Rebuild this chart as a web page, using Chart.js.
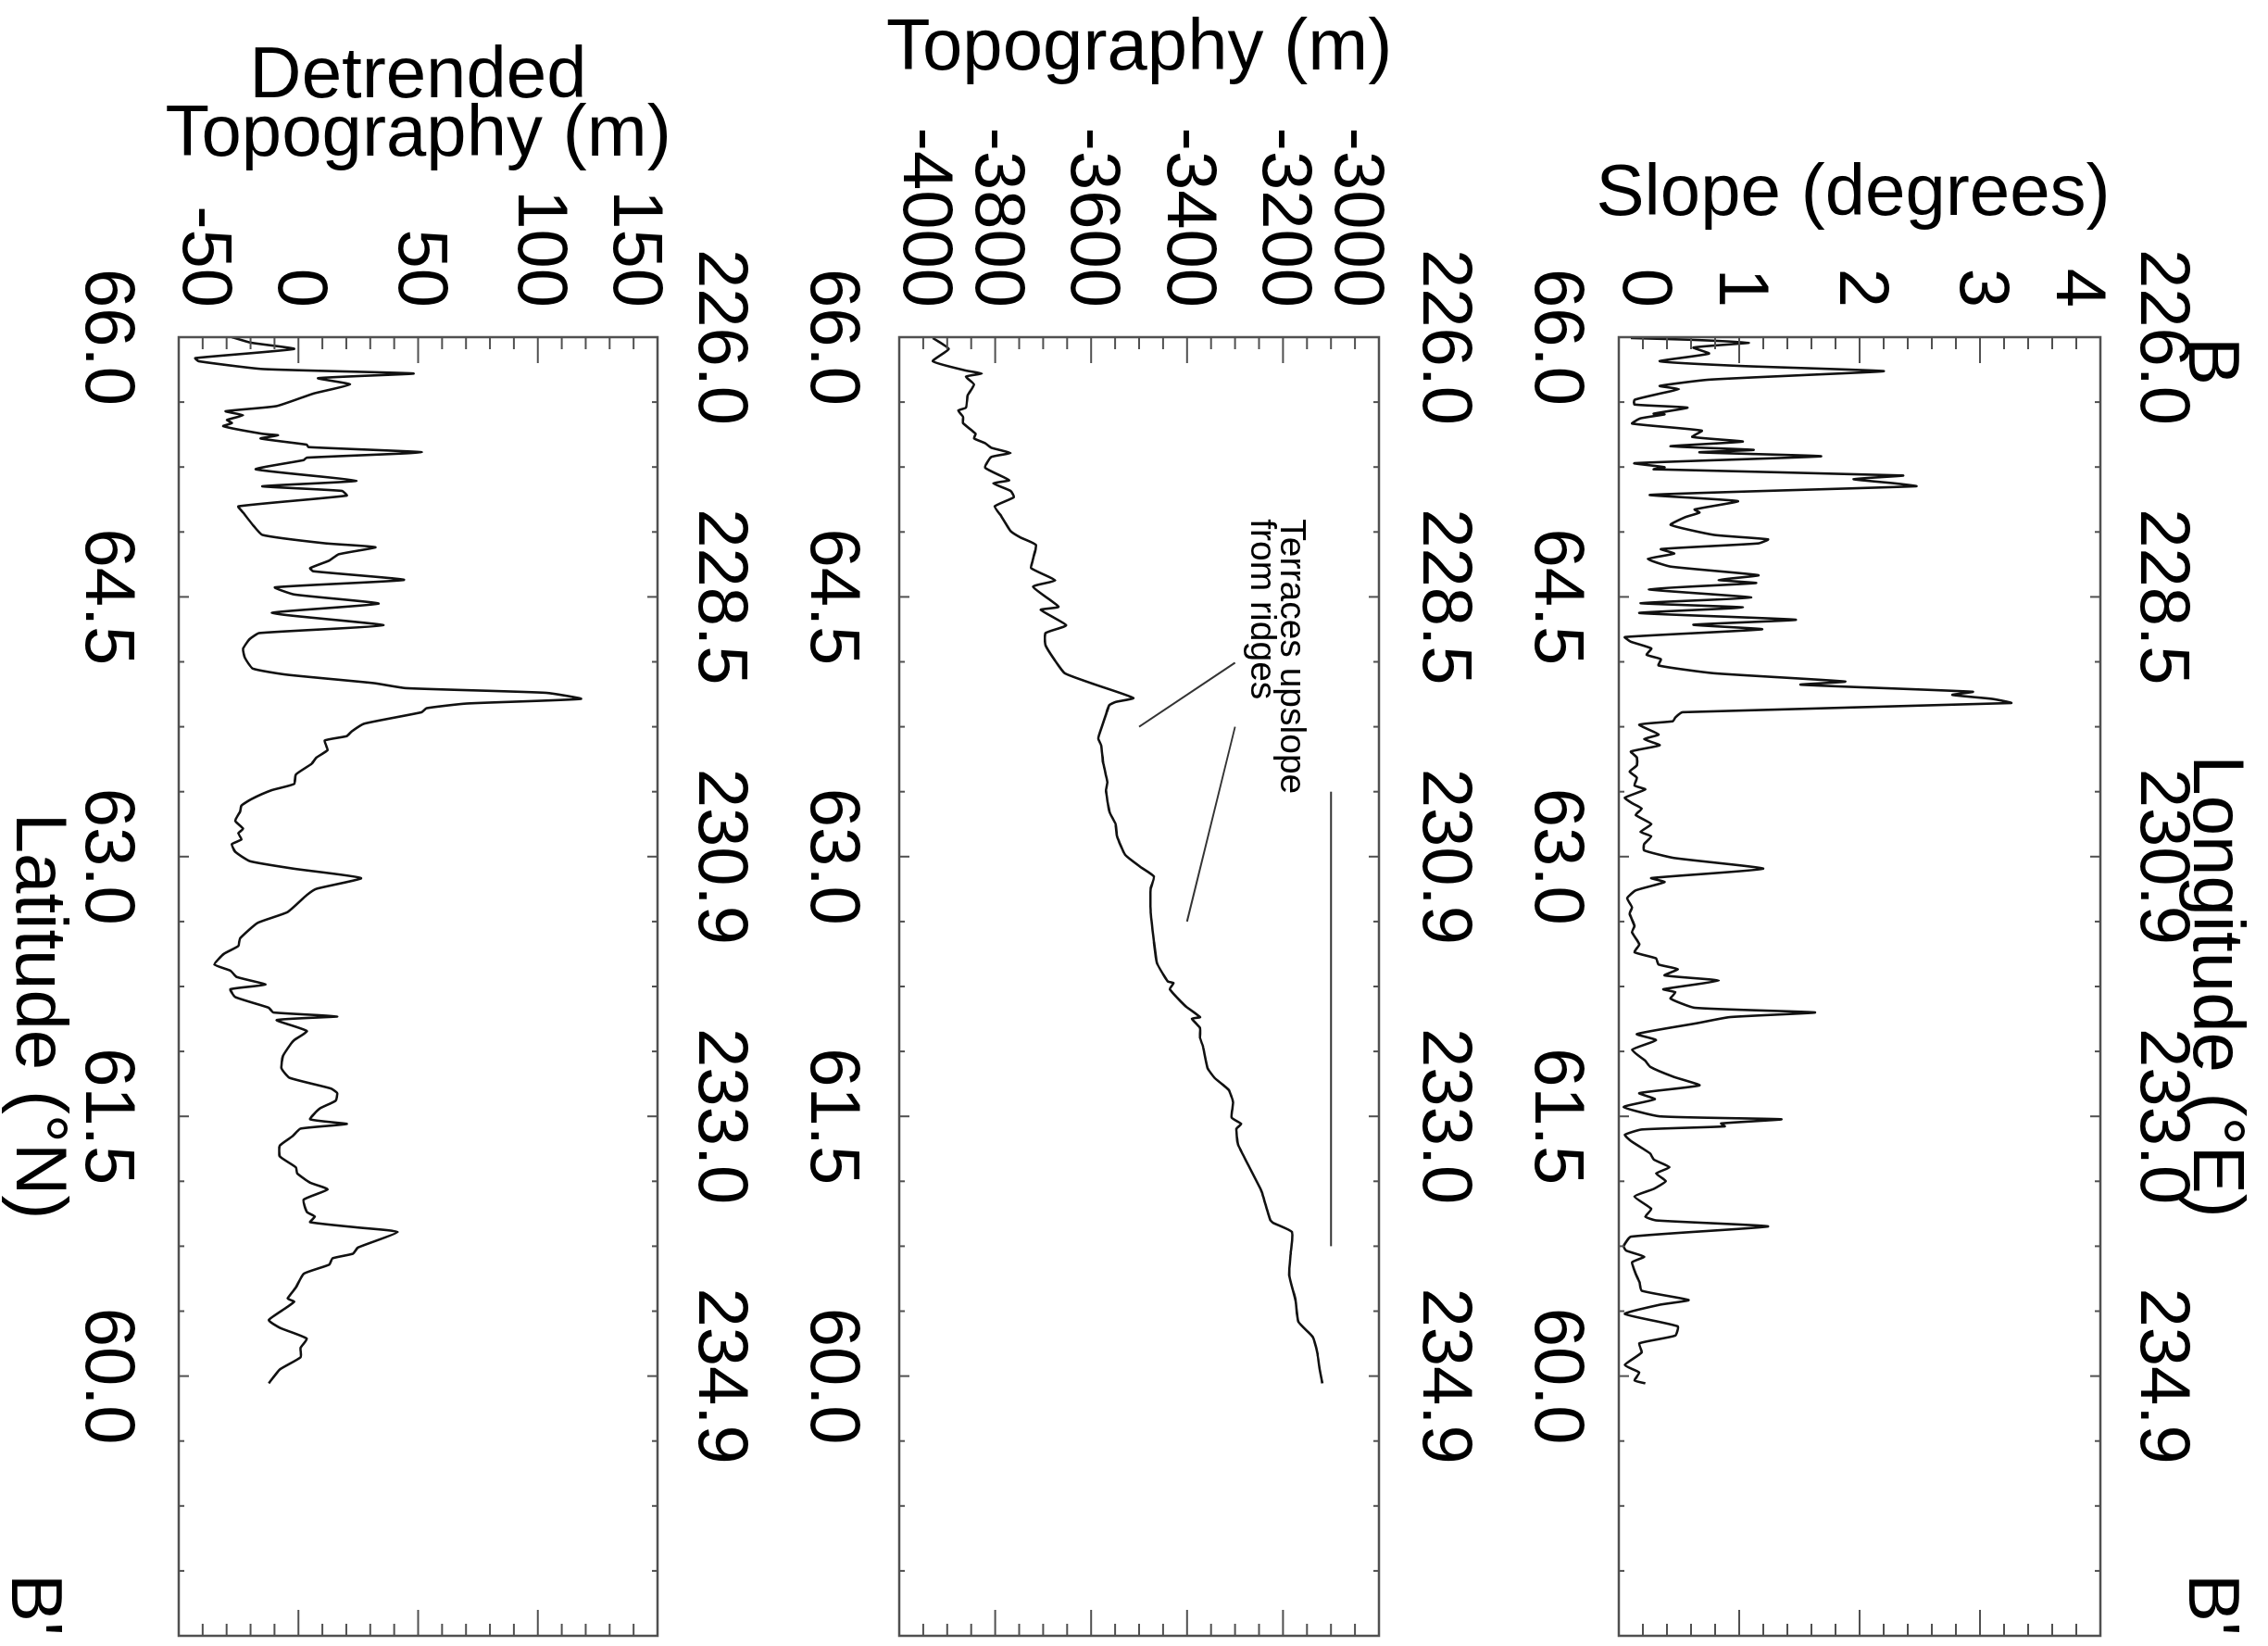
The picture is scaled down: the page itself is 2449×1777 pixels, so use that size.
<!DOCTYPE html>
<html><head><meta charset="utf-8">
<script src="https://cdn.jsdelivr.net/npm/chart.js"></script>
<style>
html,body{margin:0;padding:0;background:#fff;}
body{width:2449px;height:1777px;overflow:hidden;position:relative;}
#fig{position:absolute;left:0;top:0;width:1777px;height:2449px;transform-origin:0 0;transform:translate(2449px,0) rotate(90deg);background:#fff;}
#fig canvas{position:absolute;left:0;}
</style></head><body>
<div id="fig">
<canvas id="cA" width="1777" height="800" style="top:0px"></canvas>
<canvas id="cB" width="1777" height="800" style="top:800px"></canvas>
<canvas id="cC" width="1777" height="849" style="top:1600px"></canvas>
</div>
<script>
const FONT = "'Liberation Sans', Arial, Helvetica, sans-serif";
Chart.defaults.font.family = FONT;
Chart.defaults.color = '#000';

// ---- axis ticks / labels ----
const latTicks  = [66.0, 64.5, 63.0, 61.5, 60.0, 58.5];
const latLabels = ['66.0', '64.5', '63.0', '61.5', '60.0', ''];
const lonLabels = ['226.0', '228.5', '230.9', '233.0', '234.9', ''];
const latMinorStep = 0.375;
const slopeTicks = [0, 1, 2, 3, 4];
const topoTicks  = [-4000, -3800, -3600, -3400, -3200, -3000];
const detTicks   = [-50, 0, 50, 100, 150];

// ---- data: slope (degrees) vs latitude ----
const slopeLat = [65.995,65.985,65.968,65.940,65.905,65.861,65.834,65.804,65.781,65.754,65.718,65.700,65.674,65.638,65.611,65.593,65.558,65.554,65.531,65.501,65.460,65.424,65.397,65.370,65.349,65.335,65.312,65.272,65.249,65.237,65.201,65.180,65.156,65.139,65.089,65.053,65.005,64.987,64.960,64.916,64.858,64.832,64.809,64.776,64.750,64.719,64.675,64.625,64.598,64.580,64.544,64.496,64.464,64.439,64.407,64.368,64.339,64.313,64.268,64.241,64.202,64.166,64.140,64.104,64.059,64.011,63.993,63.952,63.934,63.911,63.887,63.834,63.804,63.782,63.762,63.705,63.679,63.643,63.607,63.572,63.527,63.491,63.456,63.411,63.388,63.340,63.309,63.277,63.241,63.188,63.143,63.117,63.072,63.036,62.992,62.930,62.876,62.853,62.805,62.760,62.707,62.671,62.600,62.564,62.493,62.448,62.412,62.377,62.350,62.314,62.284,62.234,62.216,62.180,62.127,62.100,62.073,62.038,61.975,61.940,61.884,61.821,61.786,61.727,61.679,61.634,61.599,61.554,61.500,61.483,61.459,61.442,61.424,61.393,61.358,61.286,61.251,61.206,61.170,61.126,61.081,61.037,60.965,60.921,60.899,60.864,60.805,60.751,60.725,60.689,60.657,60.591,60.546,60.493,60.439,60.412,60.359,60.287,60.234,60.189,60.136,60.064,60.020,59.975,59.958];
const slopeVal = [0.10,0.60,1.08,0.62,0.75,0.34,1.00,2.20,1.54,0.74,0.34,0.50,0.34,0.13,0.13,0.57,0.29,0.38,0.18,0.11,0.69,0.61,1.03,0.43,1.12,0.67,1.68,0.13,0.38,0.29,2.36,1.95,2.29,2.47,0.26,0.99,0.63,0.67,0.55,0.43,0.79,1.24,1.16,0.35,0.46,0.24,0.43,1.16,0.83,1.14,0.25,1.10,0.18,1.03,0.17,1.47,0.62,1.19,0.05,0.10,0.27,0.23,0.35,0.33,0.79,1.88,1.51,2.94,2.77,3.10,3.26,0.53,0.47,0.45,0.17,0.33,0.21,0.34,0.10,0.15,0.15,0.09,0.15,0.13,0.22,0.05,0.11,0.19,0.14,0.27,0.18,0.27,0.21,0.21,0.46,1.20,0.27,0.38,0.14,0.07,0.11,0.09,0.13,0.11,0.17,0.13,0.31,0.33,0.49,0.38,0.83,0.37,0.47,0.43,0.63,1.63,0.92,0.65,0.15,0.31,0.11,0.22,0.26,0.46,0.67,0.17,0.30,0.04,0.34,1.35,0.85,0.88,0.19,0.05,0.10,0.26,0.29,0.42,0.31,0.39,0.29,0.13,0.27,0.22,0.31,1.24,0.10,0.04,0.06,0.21,0.11,0.14,0.17,0.19,0.58,0.34,0.05,0.49,0.47,0.17,0.19,0.05,0.17,0.13,0.22];

// ---- data: topography (m) vs latitude ----
const topoLat = [65.995,65.932,65.861,65.807,65.790,65.772,65.727,65.665,65.593,65.576,65.540,65.504,65.442,65.415,65.388,65.361,65.331,65.308,65.246,65.174,65.156,65.112,65.076,65.023,64.969,64.880,64.844,64.800,64.719,64.666,64.595,64.559,64.443,64.425,64.336,64.291,64.220,64.131,64.059,63.997,63.916,63.893,63.875,63.821,63.714,63.679,63.643,63.545,63.429,63.384,63.260,63.188,63.117,63.010,62.938,62.885,62.814,62.689,62.510,62.386,62.279,62.270,62.234,62.136,62.073,62.064,62.011,61.955,61.904,61.777,61.723,61.652,61.581,61.492,61.456,61.429,61.340,61.206,61.081,61.063,60.903,60.885,60.832,60.707,60.582,60.439,60.314,60.225,60.127,60.047,59.958];
const topoVal = [-3930,-3897,-3930,-3861,-3828,-3861,-3844,-3857,-3861,-3877,-3867,-3867,-3841,-3844,-3821,-3808,-3768,-3808,-3821,-3771,-3804,-3768,-3761,-3801,-3788,-3768,-3748,-3715,-3721,-3725,-3675,-3721,-3668,-3705,-3652,-3695,-3695,-3675,-3655,-3595,-3512,-3549,-3562,-3569,-3582,-3585,-3579,-3575,-3566,-3569,-3562,-3549,-3546,-3529,-3496,-3469,-3476,-3476,-3469,-3463,-3440,-3428,-3436,-3403,-3373,-3390,-3373,-3373,-3367,-3357,-3343,-3313,-3304,-3307,-3287,-3297,-3294,-3270,-3247,-3244,-3227,-3221,-3181,-3184,-3187,-3174,-3168,-3138,-3128,-3124,-3118];

// ---- data: detrended topography (m) vs latitude ----
const detLat = [66.000,65.968,65.932,65.879,65.861,65.816,65.790,65.763,65.727,65.674,65.602,65.572,65.549,65.522,65.504,65.486,65.442,65.433,65.415,65.379,65.365,65.335,65.304,65.290,65.237,65.171,65.139,65.112,65.085,65.023,64.987,64.916,64.858,64.809,64.787,64.746,64.710,64.666,64.648,64.598,64.555,64.514,64.461,64.407,64.336,64.291,64.256,64.202,64.149,64.086,64.051,64.002,63.973,63.946,63.911,63.884,63.857,63.834,63.768,63.723,63.696,63.670,63.616,63.572,63.536,63.474,63.420,63.384,63.331,63.295,63.260,63.206,63.161,63.135,63.099,63.072,63.028,62.974,62.930,62.876,62.814,62.778,62.680,62.617,62.528,62.484,62.439,62.377,62.341,62.305,62.261,62.234,62.189,62.127,62.100,62.077,62.056,61.993,61.940,61.920,61.848,61.777,61.723,61.661,61.634,61.590,61.545,61.483,61.456,61.429,61.385,61.331,61.269,61.206,61.170,61.117,61.078,61.019,60.948,60.921,60.889,60.858,60.832,60.742,60.707,60.680,60.644,60.591,60.511,60.448,60.430,60.395,60.323,60.279,60.216,60.163,60.109,60.038,59.958];
const detVal = [-27.8,-19.8,-1.8,-43.1,-41.7,-15.1,48.1,8.2,21.5,6.2,-9.1,-30.4,-23.1,-29.8,-27.8,-31.4,-15.1,-8.5,-15.8,3.5,4.2,51.5,3.5,2.2,-17.8,24.2,-15.1,18.2,20.2,-25.1,-23.1,-19.1,-15.1,11.5,32.2,16.8,12.9,4.9,6.2,44.1,-9.8,-1.8,33.5,-11.1,35.5,-16.4,-20.4,-23.1,-22.4,-19.1,-5.1,31.5,44.8,103.4,118.0,70.1,53.5,51.5,27.5,22.2,20.2,10.9,12.2,7.5,5.5,-1.1,-1.8,-11.1,-19.8,-23.8,-24.4,-26.4,-23.1,-25.1,-23.8,-27.8,-26.4,-20.4,-1.8,26.2,7.5,3.5,-4.5,-17.1,-24.4,-25.1,-31.1,-35.1,-28.4,-25.8,-13.8,-28.4,-26.4,-12.4,-10.5,16.2,-9.1,3.5,-1.8,-3.1,-6.5,-7.1,-3.8,13.5,16.2,15.5,8.9,4.9,20.2,0.9,-2.5,-7.8,-7.8,-1.1,-0.5,4.9,12.2,2.2,3.5,6.9,4.9,24.8,41.5,24.8,22.8,14.2,12.9,2.2,-1.1,-4.5,-1.8,-5.1,-12.4,-7.8,3.5,0.9,0.9,-7.8,-12.4];

// ---- annotation (topography panel) ----
const annText = ['Terraces upslope', 'from ridges'];
const annTextLat = 64.95;
const annTextVal = [-3204, -3267];
const annLines = [[64.12, -3300, 63.75, -3500], [63.75, -3300, 62.625, -3400], [63.375, -3100, 60.75, -3100]];

const framePlugin = {
  id: 'frame',
  afterDraw(chart, args, o) {
    const ctx = chart.ctx, a = chart.chartArea, xs = chart.scales.x, ys = chart.scales.y;
    ctx.save();
    ctx.strokeStyle = '#505050'; ctx.lineWidth = 2.5; ctx.lineCap = 'butt';
    ctx.strokeRect(a.left, a.top, a.right - a.left, a.bottom - a.top);
    const ln = (x1, y1, x2, y2) => { ctx.beginPath(); ctx.moveTo(x1, y1); ctx.lineTo(x2, y2); ctx.stroke(); };
    ctx.lineWidth = 2;
    const nLat = Math.round((latTicks[0] - latTicks[latTicks.length - 1]) / latMinorStep);
    for (let k = 0; k <= nLat; k++) {
      const p = xs.getPixelForValue(latTicks[0] - k * latMinorStep);
      const L = (k % 4 === 0) ? 11 : 6;
      ln(p, a.bottom, p, a.bottom - L); ln(p, a.top, p, a.top + L);
    }
    const n = Math.round((o.max - o.min) / o.minor);
    const per = Math.round(o.major / o.minor);
    for (let k = 0; k <= n; k++) {
      const p = ys.getPixelForValue(o.min + k * o.minor);
      const L = (k % per === 0) ? 28 : 13;
      ln(a.left, p, a.left + L, p); ln(a.right, p, a.right - L, p);
    }
    // y title (rotated)
    ctx.fillStyle = '#000';
    ctx.font = '78px ' + FONT;
    ctx.textAlign = 'center'; ctx.textBaseline = 'middle';
    const cy = (a.top + a.bottom) / 2 + (o.titleShift || 0);
    o.title.forEach((t, i) => {
      ctx.save(); ctx.translate(o.titleX[i], cy); ctx.rotate(-Math.PI / 2); ctx.fillText(t, 0, 0); ctx.restore();
    });
    // bottom axis title drawn with an offset centre
    if (o.xTitle) {
      ctx.textAlign = 'center'; ctx.textBaseline = 'middle';
      ctx.fillText(o.xTitle.text, o.xTitle.x, chart.height - o.xTitle.fromBottom);
    }
    // corner labels
    if (o.corner) {
      ctx.textBaseline = 'alphabetic';
      ctx.textAlign = 'left';
      if (o.corner.left) ctx.fillText(o.corner.left, a.left, o.corner.y);
      ctx.textAlign = 'right';
      if (o.corner.right) ctx.fillText(o.corner.right, a.right, o.corner.y);
    }
    if (o.annotate) {
      ctx.strokeStyle = '#333'; ctx.lineWidth = 2;
      annLines.forEach(l => ln(xs.getPixelForValue(l[0]), ys.getPixelForValue(l[1]), xs.getPixelForValue(l[2]), ys.getPixelForValue(l[3])));
      ctx.font = '39px ' + FONT; ctx.textAlign = 'left'; ctx.textBaseline = 'alphabetic';
      annText.forEach((t, i) => ctx.fillText(t, xs.getPixelForValue(annTextLat), ys.getPixelForValue(annTextVal[i])));
    }
    ctx.restore();
  }
};

function makePanel(id, c) {
  const pts = c.lat.map((la, i) => ({x: la, y: c.val[i]}));
  const yt = c.yTicks;
  const latScale = (pos, labels, h, pad, title) => ({
    type: 'linear', position: pos, min: 58.5, max: 66, reverse: true,
    grid: {display: false}, border: {display: false},
    afterBuildTicks: s => { s.ticks = latTicks.map(v => ({value: v})); },
    afterFit: s => { s.height = h; s.paddingLeft = 0; s.paddingRight = 0; },
    ticks: {autoSkip: false, maxRotation: 0, minRotation: 0, padding: pad, color: '#000',
      font: {size: 76, lineHeight: 1},
      callback: v => { const i = latTicks.indexOf(v); return i >= 0 ? labels[i] : ''; }},
    title: title || {display: false}
  });
  return new Chart(document.getElementById(id), {
    type: 'scatter',
    data: {datasets: [{data: pts, showLine: true, borderColor: '#111', borderWidth: 2.6,
      pointRadius: 0, pointHoverRadius: 0, tension: 0.15, fill: false}]},
    options: {
      responsive: false, animation: false, devicePixelRatio: 1, events: [],
      layout: {padding: {left: 0, right: 11, top: 0, bottom: 0}},
      plugins: {legend: {display: false}, tooltip: {enabled: false}, frame: c.frame},
      scales: {
        x: latScale('bottom', latLabels, c.xH, c.xPad, null),
        x2: latScale('top', lonLabels, c.x2H, c.x2Pad, c.x2Title),
        y: {
          type: 'linear', position: 'left', min: yt[0], max: yt[yt.length - 1],
          grid: {display: false}, border: {display: false},
          afterBuildTicks: s => { s.ticks = yt.map(v => ({value: v})); },
          afterFit: s => { s.width = 364; s.paddingTop = 0; s.paddingBottom = 0; },
          ticks: {autoSkip: false, padding: 24, color: '#000', font: {size: 76, lineHeight: 0.68},
            callback: v => { const s = String(v); if (v === yt[0]) return [s, '']; if (v === yt[yt.length - 1]) return ['', s]; return s; }}
        }
      }
    },
    plugins: [framePlugin]
  });
}

makePanel('cA', {
  lat: slopeLat, val: slopeVal, yTicks: slopeTicks,
  xH: 99, xPad: 23.5, x2H: 181, x2Pad: 19,
  x2Title: {display: true, text: 'Longitude (°E)', color: '#000', font: {size: 78, lineHeight: 1}, padding: {top: 19, bottom: 0}},
  frame: {min: 0, max: 4, minor: 0.2, major: 1, title: ['Slope (degrees)'], titleX: [210.8], titleShift: 7,
    corner: {left: 'B', right: "B'", y: 85}}
});
makePanel('cB', {
  lat: topoLat, val: topoVal, yTicks: topoTicks,
  xH: 122, xPad: 28.5, x2H: 160, x2Pad: 22.5,
  frame: {min: -4000, max: -3000, minor: 50, major: 200, title: ['Topography (m)'], titleX: [53.8], annotate: true}
});
makePanel('cC', {
  lat: detLat, val: detVal, yTicks: detTicks,
  xH: 193, xPad: 33.5, x2H: 139, x2Pad: 19.5,
  frame: {min: -50, max: 150, minor: 10, major: 50, title: ['Detrended', 'Topography (m)'], titleX: [83.8, 146.8],
    xTitle: {text: 'Latitude (°N)', x: 1097, fromBottom: 40},
    corner: {right: "B'", y: 836}}
});
</script>
</body></html>
